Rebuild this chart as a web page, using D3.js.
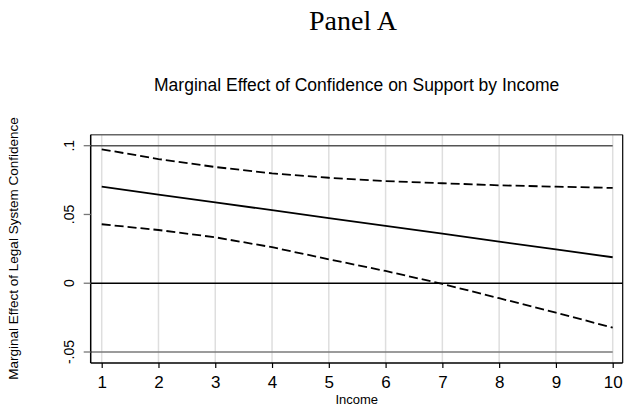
<!DOCTYPE html>
<html><head><meta charset="utf-8">
<script src="https://cdn.jsdelivr.net/npm/d3@7"></script>
<style>body{margin:0;background:#fff}svg{display:block}</style>
</head><body>
<script>
const income = [1,2,3,4,5,6,7,8,9,10];
const effect = [0.0702,0.0645,0.0588,0.0531,0.0474,0.0417,0.0360,0.0303,0.0246,0.0189];
const upper  = [0.0974,0.0903,0.0845,0.0799,0.0767,0.0743,0.0727,0.0712,0.0702,0.0693];
const lower  = [0.0429,0.0387,0.0334,0.0262,0.0174,0.0089,-0.0005,-0.0109,-0.0214,-0.0323];
const yTicks = [-0.05,0,0.05,0.1];
const yTickLabels = ["-.05","0",".05",".1"];
const xTicks = [1,2,3,4,5,6,7,8,9,10];
const refLines = [0.1,-0.05];

const W=624,H=411;
const svg=d3.select("body").append("svg").attr("width",W).attr("height",H);
const L=90.7,R=622.7,T=134.7,B=363;
const x=d3.scaleLinear().domain([1,10]).range([101.7,612.7]);
const y=d3.scaleLinear().domain([-0.05,0.1]).range([352,145.7]);

// panel title
svg.append("text").attr("x",353).attr("y",29.5).attr("text-anchor","middle")
  .attr("font-family","Liberation Serif").attr("font-size",28).text("Panel A");
svg.append("text").attr("x",356.7).attr("y",90.7).attr("text-anchor","middle")
  .attr("font-family","Liberation Sans, Arial").attr("font-size",17.5)
  .text("Marginal Effect of Confidence on Support by Income");

// vertical grid
svg.append("g").selectAll("line").data(xTicks).join("line")
  .attr("x1",d=>x(d)).attr("x2",d=>x(d)).attr("y1",T).attr("y2",B)
  .attr("stroke","#dedede").attr("stroke-width",1.5);

// reference lines
svg.append("g").selectAll("line").data(refLines).join("line")
  .attr("x1",L).attr("x2",x(10)).attr("y1",d=>y(d)).attr("y2",d=>y(d))
  .attr("stroke",(d,i)=>i===0?"#555":"#7a7a7a").attr("stroke-width",1.5);
svg.append("line").attr("x1",L).attr("x2",R).attr("y1",y(0)).attr("y2",y(0))
  .attr("stroke","#000").attr("stroke-width",1.5);

// frame
svg.append("line").attr("x1",L).attr("x2",R).attr("y1",T).attr("y2",T).attr("stroke","#666").attr("stroke-width",1.5);
svg.append("line").attr("x1",R).attr("x2",R).attr("y1",T).attr("y2",B).attr("stroke","#000").attr("stroke-width",1.2);

// axes
const yAxis=d3.axisLeft(y).tickValues(yTicks).tickFormat((d,i)=>yTickLabels[i]).tickSize(7).tickPadding(4);
const gy=svg.append("g").attr("transform",`translate(${L},0)`).call(yAxis);
gy.select(".domain").attr("d",`M0,${T}V${B}`).attr("stroke","#000").attr("stroke-width",1.5);
gy.selectAll(".tick line").attr("stroke","#777").attr("stroke-width",1.3);
gy.selectAll(".tick text").attr("font-family","Liberation Sans, Arial").attr("font-size",14).attr("fill","#000")
  .attr("text-anchor","middle").attr("transform",d=>`translate(-17,${y(d)}) rotate(-90)`)
  .attr("x",0).attr("y",0).attr("dy",0);
gy.selectAll(".tick").attr("transform","translate(0,0)");
gy.selectAll(".tick line").attr("y1",d=>y(d)).attr("y2",d=>y(d));

const xAxis=d3.axisBottom(x).tickValues(xTicks).tickFormat(d3.format("d")).tickSize(5).tickPadding(8);
const gx=svg.append("g").attr("transform",`translate(0,${B})`).call(xAxis);
gx.select(".domain").attr("d",`M${L},0H${R}`).attr("stroke","#000").attr("stroke-width",1.5);
gx.selectAll(".tick line").attr("stroke","#000").attr("stroke-width",1.2);
gx.selectAll(".tick text").attr("font-family","Liberation Sans, Arial").attr("font-size",17).attr("fill","#000");

svg.append("text").attr("x",356.7).attr("y",404).attr("text-anchor","middle")
  .attr("font-family","Liberation Sans, Arial").attr("font-size",13).text("Income");
svg.append("text").attr("transform","translate(18,248.5) rotate(-90)").attr("text-anchor","middle")
  .attr("font-family","Liberation Sans, Arial").attr("font-size",13.5)
  .text("Marginal Effect of Legal System Confidence");

// series
const line=d3.line().x((d,i)=>x(income[i])).y(d=>y(d));
[[upper,"9,4"],[effect,null],[lower,"9,4"]].forEach(([s,dash])=>{
  svg.append("path").datum(s).attr("d",line).attr("fill","none").attr("stroke","#000")
    .attr("stroke-width",1.8).attr("stroke-dasharray",dash);
});
</script>
</body></html>
